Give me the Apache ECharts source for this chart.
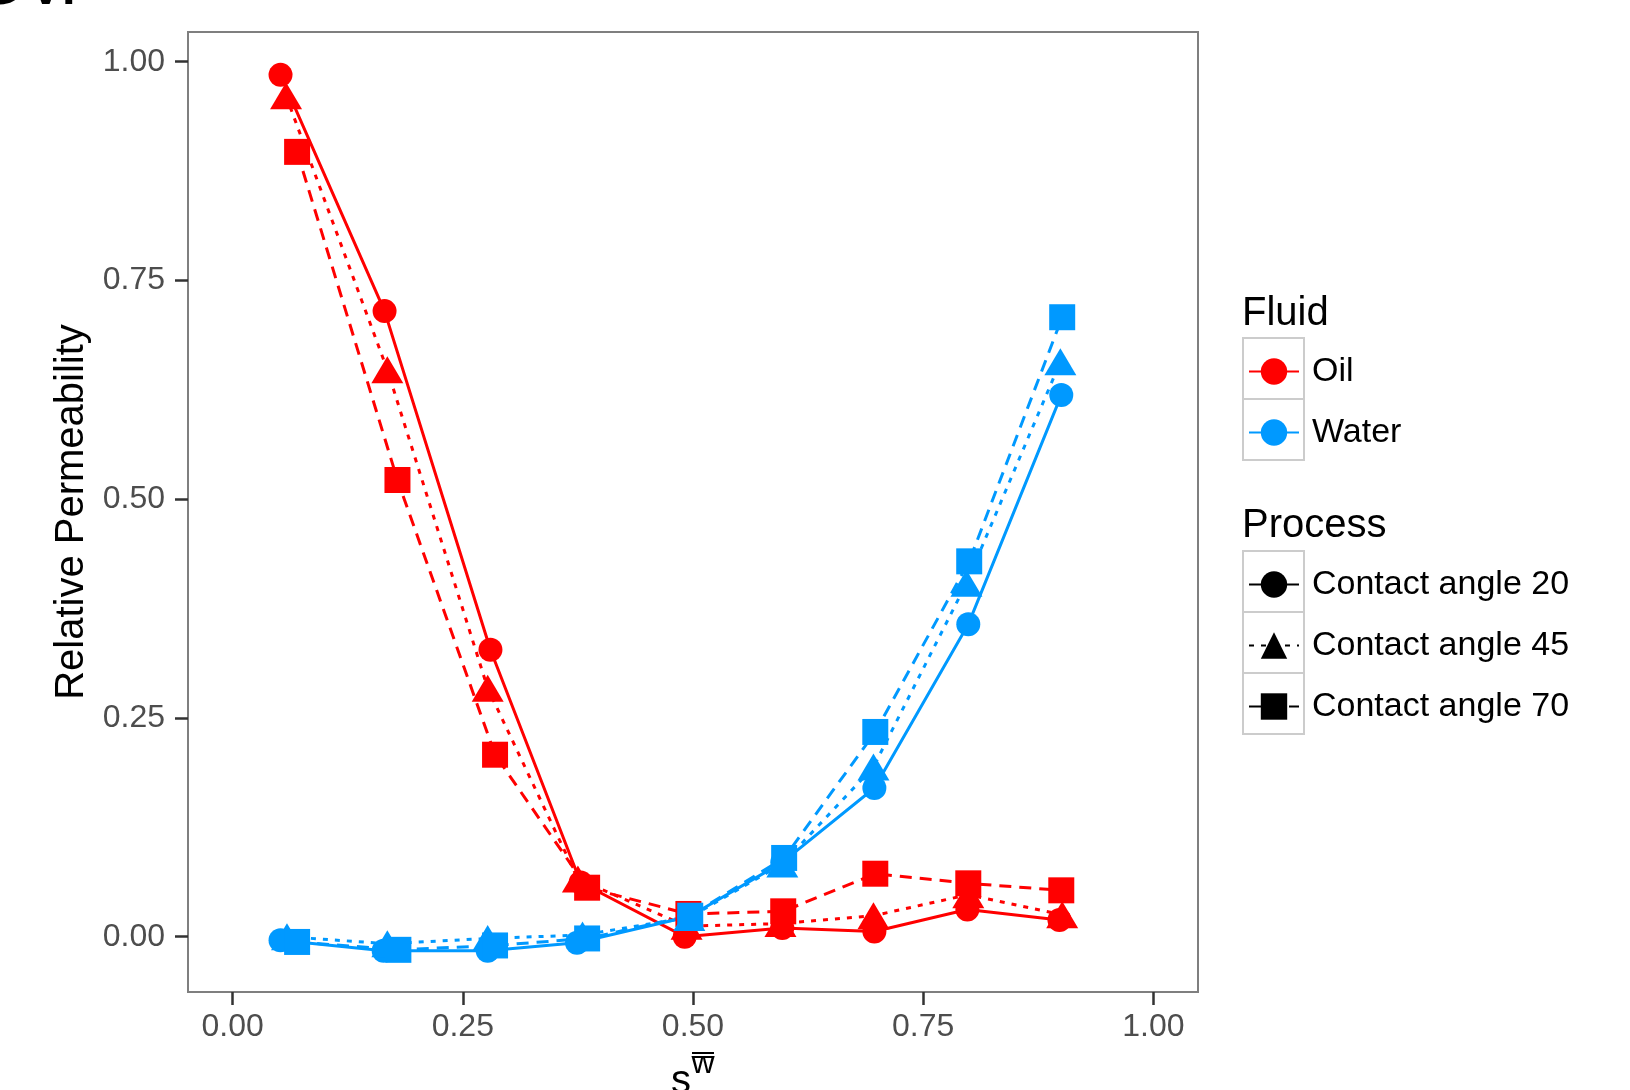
<!DOCTYPE html>
<html>
<head>
<meta charset="utf-8">
<script src="https://cdn.jsdelivr.net/npm/echarts@6/dist/echarts.min.js"></script>
<style>
html,body{margin:0;padding:0;background:#fff;}
#chart{width:1630px;height:1090px;}
</style>
</head>
<body>
<div id="chart"></div>
<script>
// ---- data ----
const xTicks = [0, 0.25, 0.5, 0.75, 1];
const yTicks = [0, 0.25, 0.5, 0.75, 1];
const fluids = ['Oil', 'Water'];
const processes = ['Contact angle 20', 'Contact angle 45', 'Contact angle 70'];

const oil20X = [0.052, 0.165, 0.280, 0.378, 0.491, 0.597, 0.697, 0.798, 0.898];
const oil20Y = [0.985, 0.715, 0.328, 0.062, 0.000, 0.010, 0.006, 0.031, 0.019];
const oil45X = [0.058, 0.168, 0.277, 0.375, 0.493, 0.595, 0.696, 0.799, 0.901];
const oil45Y = [0.961, 0.648, 0.284, 0.066, 0.012, 0.015, 0.024, 0.048, 0.025];
const oil70X = [0.070, 0.179, 0.285, 0.385, 0.495, 0.598, 0.698, 0.799, 0.900];
const oil70Y = [0.897, 0.522, 0.208, 0.056, 0.026, 0.029, 0.072, 0.061, 0.053];

const water20X = [0.052, 0.164, 0.277, 0.374, 0.496, 0.597, 0.697, 0.799, 0.900];
const water20Y = [-0.004, -0.016, -0.016, -0.007, 0.023, 0.085, 0.170, 0.357, 0.619];
const water45X = [0.059, 0.168, 0.277, 0.380, 0.496, 0.597, 0.696, 0.797, 0.899];
const water45Y = [0.000, -0.008, -0.002, 0.002, 0.022, 0.083, 0.194, 0.404, 0.657];
const water70X = [0.070, 0.180, 0.285, 0.385, 0.497, 0.599, 0.698, 0.800, 0.901];
const water70Y = [-0.006, -0.015, -0.010, -0.002, 0.024, 0.090, 0.234, 0.429, 0.708];

// ---- styles ----
const FONT = "'Liberation Sans', Arial, sans-serif";
const fluidColor = { 'Oil': '#FF0000', 'Water': '#0099FF' };
const procStyle = {
  'Contact angle 20': { symbol: 'circle', size: 24, dash: 'solid' },
  'Contact angle 45': { symbol: 'triangle', size: [32, 27], dash: [5, 7] },
  'Contact angle 70': { symbol: 'rect', size: 26, dash: [12, 8] }
};
const LW = 3;

const seriesDefs = [
  ['Oil', 'Contact angle 20', oil20X, oil20Y],
  ['Oil', 'Contact angle 45', oil45X, oil45Y],
  ['Oil', 'Contact angle 70', oil70X, oil70Y],
  ['Water', 'Contact angle 20', water20X, water20Y],
  ['Water', 'Contact angle 45', water45X, water45Y],
  ['Water', 'Contact angle 70', water70X, water70Y]
];

function pairs(xs, ys) { return xs.map((x, i) => [x, ys[i]]); }

const series = [];
seriesDefs.forEach(([fl, pr, xs, ys]) => {
  series.push({
    type: 'line', name: fl + ' ' + pr + ' line', data: pairs(xs, ys),
    showSymbol: false, symbol: 'none', silent: true, z: 2,
    lineStyle: { color: fluidColor[fl], width: LW, type: procStyle[pr].dash }
  });
});
seriesDefs.forEach(([fl, pr, xs, ys]) => {
  series.push({
    type: 'scatter', name: fl + ' ' + pr + ' pts', data: pairs(xs, ys),
    symbol: procStyle[pr].symbol, symbolSize: procStyle[pr].size, silent: true, z: 3,
    itemStyle: { color: fluidColor[fl], opacity: 1 }
  });
});
// legend-only series
fluids.forEach(fl => {
  series.push({ type: 'line', name: fl, data: [], symbol: 'circle',
    itemStyle: { color: fluidColor[fl] }, lineStyle: { color: fluidColor[fl], width: LW, type: 'solid' } });
});
processes.forEach(pr => {
  series.push({ type: 'line', name: pr, data: [], symbol: procStyle[pr].symbol,
    itemStyle: { color: '#000' }, lineStyle: { color: '#000', width: LW, type: procStyle[pr].dash } });
});

const legendBase = {
  orient: 'vertical', left: 1248, itemWidth: 50, itemHeight: 33, itemGap: -2, padding: 0,
  selectedMode: false, inactiveColor: '#000',
  textStyle: { fontSize: 34, color: '#000', fontFamily: FONT, lineHeight: 61, padding: [2, 0, 0, 8] }
};

const keyBoxes = [];
[338, 399].forEach(y => keyBoxes.push({ type: 'rect', shape: { x: 1243, y: y, width: 61, height: 61 },
  style: { fill: '#fff', stroke: '#cccccc', lineWidth: 2 }, z: 0, silent: true }));
[551, 612, 673].forEach(y => keyBoxes.push({ type: 'rect', shape: { x: 1243, y: y, width: 61, height: 61 },
  style: { fill: '#fff', stroke: '#cccccc', lineWidth: 2 }, z: 0, silent: true }));

const chart = echarts.init(document.getElementById('chart'), null, { renderer: 'canvas' });
chart.setOption({
  backgroundColor: '#ffffff',
  animation: false,
  grid: { left: 188, right: 432, top: 32, bottom: 98, show: true, borderColor: '#7f7f7f', borderWidth: 2, backgroundColor: '#fff' },
  xAxis: {
    type: 'value', min: -0.0485, max: 1.0485,
    axisLine: { show: false, onZero: false }, splitLine: { show: false },
    axisTick: { show: true, customValues: xTicks, length: 13, lineStyle: { color: '#333', width: 2.5 } },
    axisLabel: { customValues: xTicks, formatter: v => v.toFixed(2), fontSize: 32, color: '#4d4d4d', fontFamily: FONT, margin: 19 }
  },
  yAxis: {
    type: 'value', min: -0.0632, max: 1.034,
    name: 'Relative Permeability', nameLocation: 'middle', nameRotate: 90, nameGap: 94,
    nameTextStyle: { fontSize: 40, color: '#000', fontFamily: FONT },
    axisLine: { show: false, onZero: false }, splitLine: { show: false },
    axisTick: { show: true, customValues: yTicks, length: 13, lineStyle: { color: '#333', width: 2.5 } },
    axisLabel: { customValues: yTicks, formatter: v => v.toFixed(2), fontSize: 32, color: '#4d4d4d', fontFamily: FONT, margin: 23, padding: [5, 0, 0, 0] }
  },
  legend: [
    Object.assign({}, legendBase, { data: fluids, top: 340 }),
    Object.assign({}, legendBase, { data: processes, top: 553 })
  ],
  graphic: keyBoxes.concat([
    { type: 'text', x: 1242, y: 314, silent: true,
      style: { text: 'Fluid', fontSize: 40, fontFamily: FONT, fill: '#000', align: 'left', verticalAlign: 'middle' } },
    { type: 'text', x: 1242, y: 526, silent: true,
      style: { text: 'Process', fontSize: 40, fontFamily: FONT, fill: '#000', align: 'left', verticalAlign: 'middle' } },
    // x-axis title: s with superscript w double-overlined
    { type: 'text', x: 681, y: 1082, silent: true,
      style: { text: 's', fontSize: 40, fontFamily: FONT, fill: '#000', align: 'center', verticalAlign: 'middle' } },
    { type: 'text', x: 703, y: 1064, silent: true,
      style: { text: 'w', fontSize: 32, fontFamily: FONT, fill: '#000', align: 'center', verticalAlign: 'middle' } },
    { type: 'line', silent: true, shape: { x1: 692, y1: 1053, x2: 714, y2: 1053 }, style: { stroke: '#000', lineWidth: 2 } },
    { type: 'line', silent: true, shape: { x1: 692, y1: 1057, x2: 714, y2: 1057 }, style: { stroke: '#000', lineWidth: 2 } },
    // cut-off caption fragment at top-left
    { type: 'text', x: -28, y: -16, silent: true,
      style: { text: 'Ov.', fontSize: 72, fontFamily: FONT, fill: '#000', align: 'left', verticalAlign: 'middle' } }
  ]),
  series: series
});
</script>
</body>
</html>
